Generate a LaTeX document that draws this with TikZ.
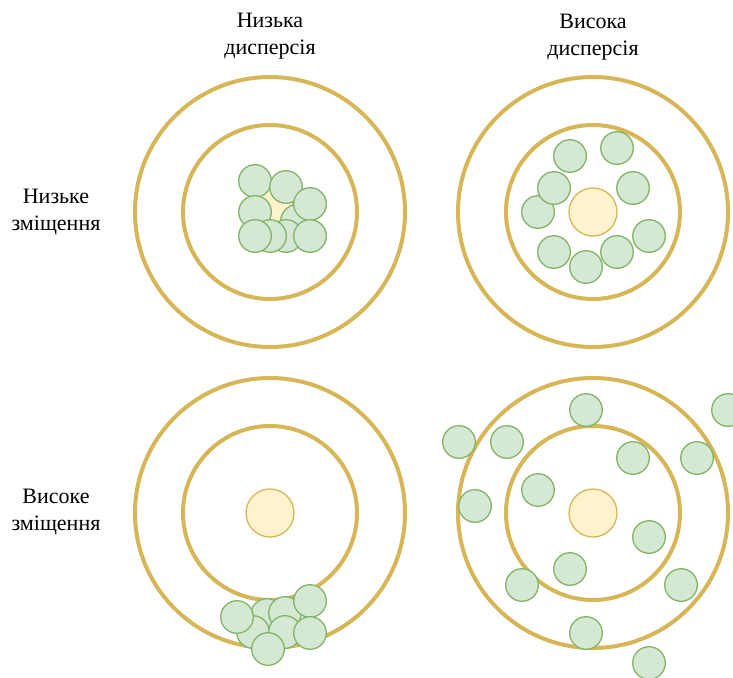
\documentclass[tikz,border=0pt]{standalone}
\usepackage{fontspec}
\setmainfont{Liberation Serif}
\definecolor{ringc}{HTML}{D6B656}
\definecolor{bullf}{HTML}{FFF2CC}
\definecolor{shotf}{HTML}{D5E8D4}
\definecolor{shotd}{HTML}{82B366}
\tikzset{
  ring/.style={draw=ringc, line width=4pt},
  bull/.style={fill=bullf, draw=ringc, line width=1.3pt},
  shot/.style={fill=shotf, draw=shotd, line width=1.3pt},
  lbl/.style={font=\fontsize{22}{27}\selectfont, align=center, inner sep=0pt}
}
% one target: outer ring, inner ring, bull's eye
\newcommand\target[2]{%
  \draw[ring] (#1,#2) circle[radius=135];
  \draw[ring] (#1,#2) circle[radius=87];
  \draw[bull] (#1,#2) circle[radius=24];
}
\newcommand\hit[2]{\draw[shot] (#1,#2) circle[radius=16.3];}
\begin{document}
\begin{tikzpicture}[x=1pt,y=-1pt]
\useasboundingbox (0,0) rectangle (733,677);
\clip (0,0) rectangle (733,677);

% column and row headings
\node[lbl] (lowdisp)  at (270,36) {Низька\\дисперсія};
\node[lbl] (highdisp) at (593,37) {Висока\\дисперсія};
\node[lbl] (lowbias)  at (56,212) {Низьке\\зміщення};
\node[lbl] (highbias) at (56,512) {Високе\\зміщення};

% low bias, low dispersion
\target{270}{212}
\hit{297}{221}
\hit{255}{181}
\hit{286}{187}
\hit{255}{212}
\hit{310}{204}
\hit{286}{236}
\hit{270}{236}
\hit{310}{236}
\hit{255}{236}

% low bias, high dispersion
\target{593}{212}
\hit{570}{156}
\hit{617}{148}
\hit{538}{212}
\hit{554}{188}
\hit{633}{188}
\hit{649}{236}
\hit{554}{252}
\hit{617}{252}
\hit{586}{267}

% high bias, low dispersion
\target{270}{513}
\hit{267}{615}
\hit{285}{613}
\hit{253}{632}
\hit{285}{632}
\hit{237}{617}
\hit{310}{601}
\hit{310}{633}
\hit{268}{649}

% high bias, high dispersion
\target{593}{513}
\hit{586}{410}
\hit{728}{410}
\hit{459}{442}
\hit{507}{442}
\hit{633}{458}
\hit{697}{458}
\hit{538}{490}
\hit{475}{506}
\hit{649}{537}
\hit{570}{569}
\hit{522}{585}
\hit{681}{585}
\hit{586}{633}
\hit{649}{663}
\end{tikzpicture}
\end{document}
